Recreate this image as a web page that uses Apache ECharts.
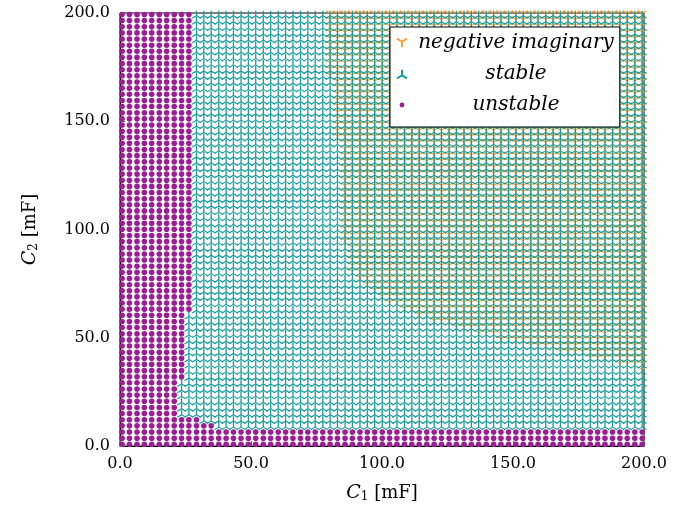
<!DOCTYPE html>
<html>
<head>
<meta charset="utf-8">
<script src="https://cdn.jsdelivr.net/npm/echarts@6/dist/echarts.min.js"></script>
<style>
  html, body { margin: 0; padding: 0; background: #fff; }
  #chart { width: 691px; height: 515px; }
</style>
</head>
<body>
<div id="chart"></div>
<script>
  // sampled capacitor values (mF), same grid on both axes
  var cValues = [
    0.8, 3.6, 6.5, 9.3, 12.1, 15.0, 17.8, 20.7, 23.5, 26.3,
    29.2, 32.0, 34.8, 37.7, 40.5, 43.3, 46.2, 49.0, 51.8, 54.7,
    57.5, 60.4, 63.2, 66.0, 68.9, 71.7, 74.5, 77.4, 80.2, 83.0,
    85.9, 88.7, 91.6, 94.4, 97.2, 100.1, 102.9, 105.7, 108.6, 111.4,
    114.2, 117.1, 119.9, 122.7, 125.6, 128.4, 131.3, 134.1, 136.9, 139.8,
    142.6, 145.4, 148.3, 151.1, 153.9, 156.8, 159.6, 162.5, 165.3, 168.1,
    171.0, 173.8, 176.6, 179.5, 182.3, 185.1, 188.0, 190.8, 193.6, 196.5,
    199.3
  ]

  // per C2 row (bottom -> top): how many C1 columns from the left are unstable
  var unstableCols = [
    71, 71, 71, 13, 11, 8, 8, 8, 8, 8,
    8, 9, 9, 9, 9, 9, 9, 9, 9, 9,
    9, 9, 10, 10, 10, 10, 10, 10, 10, 10,
    10, 10, 10, 10, 10, 10, 10, 10, 10, 10,
    10, 10, 10, 10, 10, 10, 10, 10, 10, 10,
    10, 10, 10, 10, 10, 10, 10, 10, 10, 10,
    10, 10, 10, 10, 10, 10, 10, 10, 10, 10,
    10
  ]

  // per C2 row: first C1 column that is negative imaginary (71 = none)
  var negImagFrom = [
    71, 71, 71, 71, 71, 71, 71, 71, 71, 71,
    71, 71, 70, 67, 63, 59, 55, 51, 48, 45,
    42, 40, 38, 36, 35, 34, 33, 32, 31, 31,
    31, 31, 31, 30, 30, 30, 30, 30, 30, 30,
    30, 30, 30, 30, 30, 30, 30, 30, 30, 30,
    29, 29, 29, 29, 29, 29, 29, 29, 29, 29,
    28, 28, 28, 28, 28, 28, 28, 28, 28, 28,
    28
  ]

  var tickValues = [0, 50, 100, 150, 200]

  var negImagPts = []
  var stablePts = []
  var unstablePts = []
  for (var j = 0; j < cValues.length; j++) {
    for (var i = 0; i < cValues.length; i++) {
      var p = [cValues[i], cValues[j]]
      if (i < unstableCols[j]) {
        unstablePts.push(p)
      } else {
        stablePts.push(p)
        if (i >= negImagFrom[j]) negImagPts.push(p)
      }
    }
  }

  var serif = 'DejaVu Serif'
  var triUp = 'path://M0,0L0,-10M0,0L-8.66,5M0,0L8.66,5'
  var triDown = 'path://M0,0L0,10M0,0L-8.66,-5M0,0L8.66,-5'
  // small dot inside a larger invisible box, for the legend
  var smallDot = 'path://M0,0M10,10M5,2.6A2.4,2.4,0,1,1,4.99,2.6Z'

  var axisName = function (sub) {
    return '{i|C}{s|' + sub + '}{n| [mF]}'
  }
  var nameRich = {
    i: { fontFamily: serif, fontStyle: 'italic', fontSize: 19, color: '#000' },
    s: { fontFamily: serif, fontSize: 12, color: '#000', verticalAlign: 'bottom', padding: [8, 0, 0, 0] },
    n: { fontFamily: serif, fontSize: 18, color: '#000' }
  }

  var axisCommon = {
    type: 'value',
    min: 0,
    max: 200,
    interval: 50,
    splitLine: { show: false },
    axisLine: { show: true, lineStyle: { color: '#000', width: 1 } },
    axisTick: { show: true, inside: true, length: 5, lineStyle: { color: '#666' } },
    axisLabel: {
      fontFamily: serif, fontSize: 16, color: '#000', margin: 10,
      formatter: function (v) { return tickValues.indexOf(v) >= 0 ? v.toFixed(1) : '' }
    },
    nameLocation: 'middle',
    nameTextStyle: { rich: nameRich }
  }

  var chart = echarts.init(document.getElementById('chart'), null, { renderer: 'canvas' })
  chart.setOption({
    animation: false,
    backgroundColor: '#fff',
    grid: {
      left: 120, right: 47, top: 13, bottom: 69,
      show: true, borderColor: '#000', borderWidth: 1, backgroundColor: 'transparent'
    },
    xAxis: Object.assign({}, axisCommon, {
      name: axisName(1),
      nameGap: 37
    }),
    yAxis: Object.assign({}, axisCommon, {
      name: axisName(2),
      nameGap: 80,
      nameRotate: 90
    }),
    legend: {
      orient: 'vertical',
      left: 390,
      top: 27,
      padding: [6, 6, 12, 6],
      itemWidth: 10,
      itemHeight: 10,
      itemGap: 11,
      backgroundColor: '#fff',
      borderColor: '#000',
      borderWidth: 1,
      data: [
        { name: 'negative imaginary' },
        { name: 'stable' },
        { name: 'unstable', icon: smallDot }
      ],
      formatter: function (n) { return '{t|' + n + '}' },
      textStyle: {
        rich: {
          t: { width: 208, height: 24, align: 'center', fontFamily: serif, fontStyle: 'italic', fontSize: 20, color: '#000' }
        }
      }
    },
    series: [
      {
        name: 'negative imaginary',
        type: 'scatter',
        progressive: 0,
        symbol: triDown,
        symbolSize: [8.7, 7.5],
        itemStyle: { color: 'rgba(0,0,0,0)', borderColor: '#f7a238', borderWidth: 1.2, opacity: 1 },
        data: negImagPts
      },
      {
        name: 'stable',
        type: 'scatter',
        progressive: 0,
        symbol: triUp,
        symbolSize: [8.7, 7.5],
        itemStyle: { color: 'rgba(0,0,0,0)', borderColor: '#179b9b', borderWidth: 1.2, opacity: 1 },
        data: stablePts
      },
      {
        name: 'unstable',
        type: 'scatter',
        progressive: 0,
        symbol: 'circle',
        symbolSize: 5.6,
        itemStyle: { color: '#9b1e93', opacity: 1 },
        data: unstablePts
      }
    ]
  })
</script>
</body>
</html>
